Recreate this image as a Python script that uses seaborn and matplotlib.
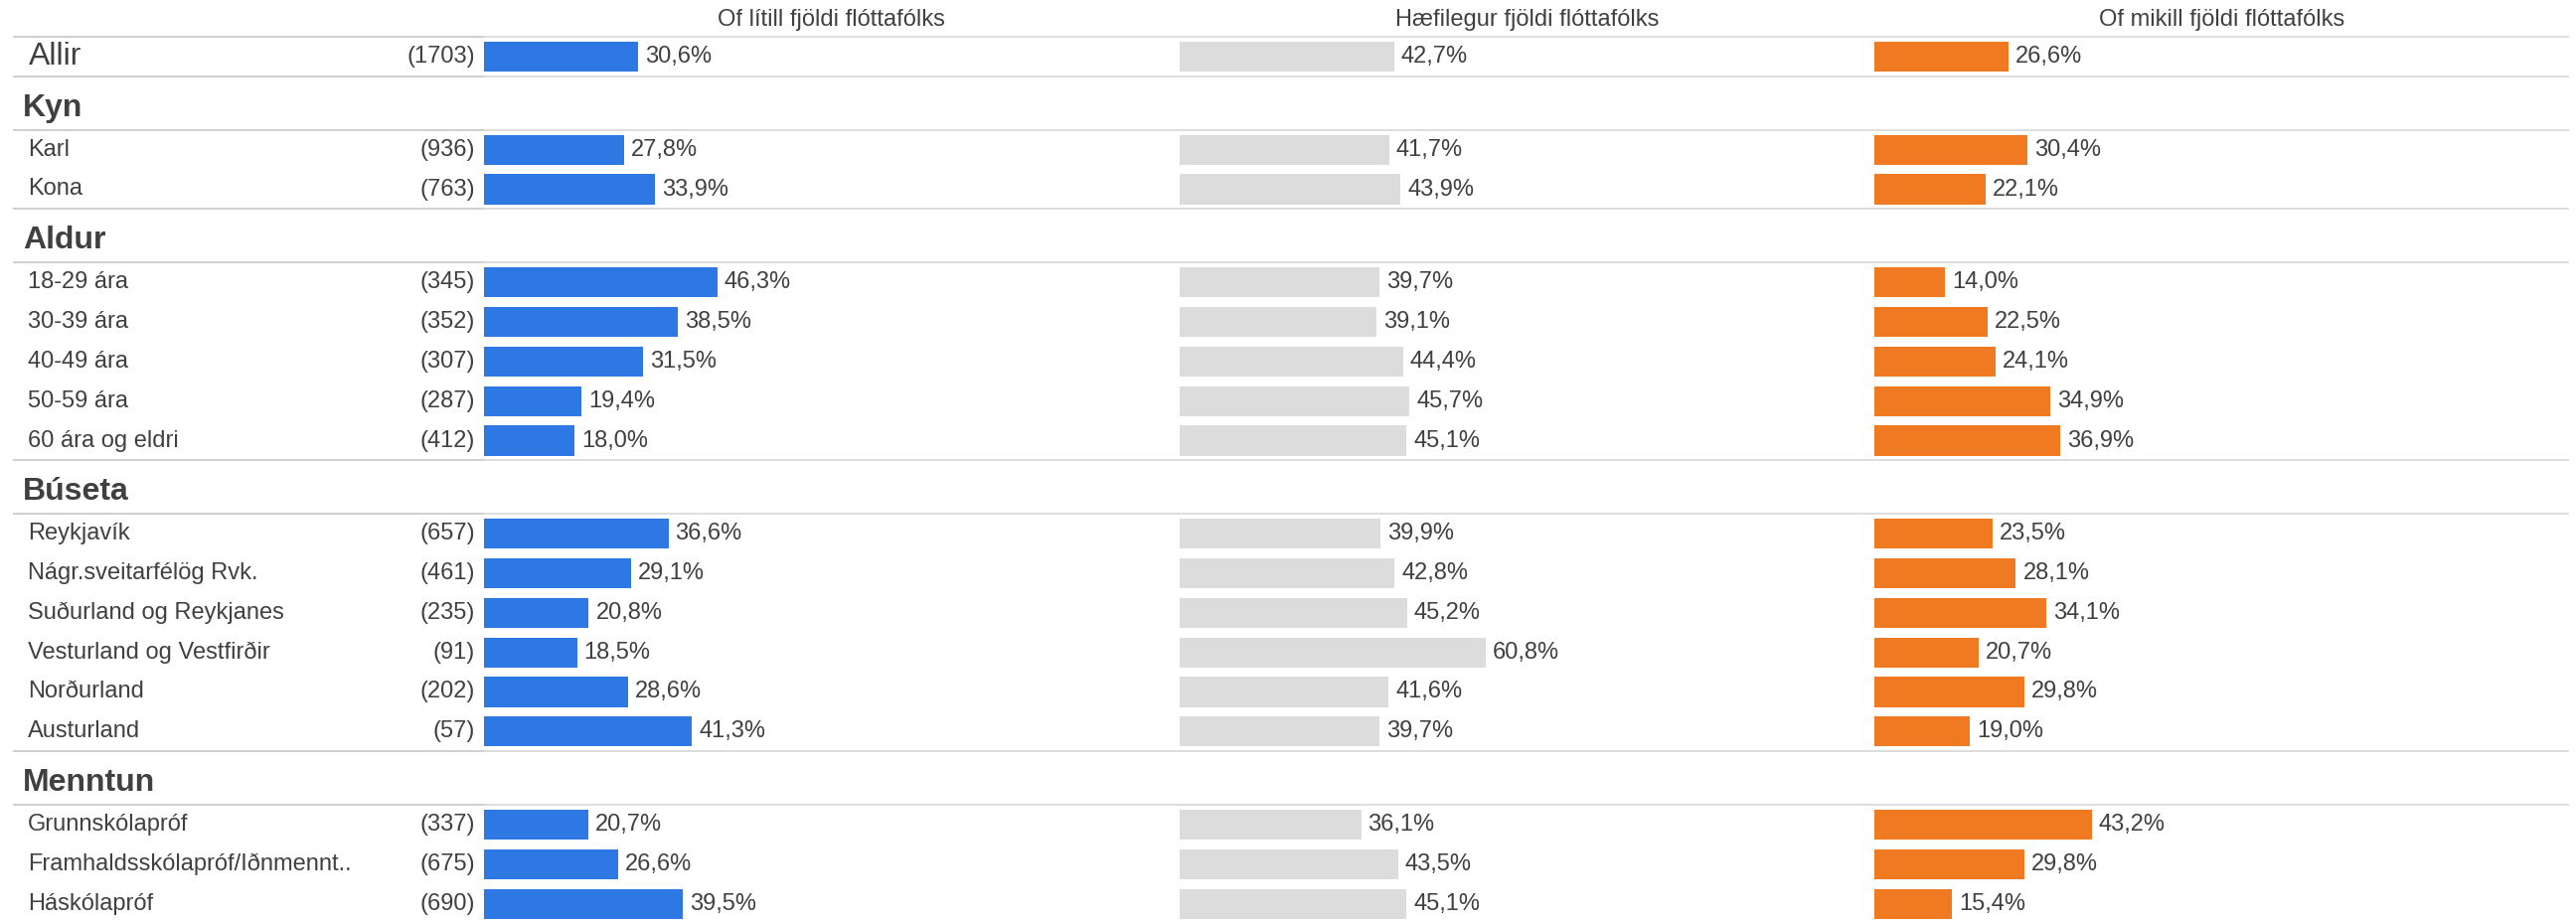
import numpy as np
import pandas as pd
import matplotlib
matplotlib.use("Agg")
import matplotlib.pyplot as plt
import seaborn as sns

# ---------------- data ----------------
column_titles = ["Of lítill fjöldi flóttafólks", "Hæfilegur fjöldi flóttafólks", "Of mikill fjöldi flóttafólks"]
group_names = ["", "Kyn", "Aldur", "Búseta", "Menntun"]
row_groups = [0, 1, 1, 2, 2, 2, 2, 2, 3, 3, 3, 3, 3, 3, 4, 4, 4]
row_labels = ["Allir", "Karl", "Kona",
              "18-29 ára", "30-39 ára", "40-49 ára", "50-59 ára", "60 ára og eldri",
              "Reykjavík", "Nágr.sveitarfélög Rvk.", "Suðurland og Reykjanes",
              "Vesturland og Vestfirðir", "Norðurland", "Austurland",
              "Grunnskólapróf", "Framhaldsskólapróf/Iðnmennt..", "Háskólapróf"]
row_counts = [1703, 936, 763, 345, 352, 307, 287, 412, 657, 461, 235, 91, 202, 57, 337, 675, 690]
of_litill = [30.6, 27.8, 33.9, 46.3, 38.5, 31.5, 19.4, 18.0, 36.6, 29.1, 20.8, 18.5, 28.6, 41.3, 20.7, 26.6, 39.5]
haefilegur = [42.7, 41.7, 43.9, 39.7, 39.1, 44.4, 45.7, 45.1, 39.9, 42.8, 45.2, 60.8, 41.6, 39.7, 36.1, 43.5, 45.1]
of_mikill = [26.6, 30.4, 22.1, 14.0, 22.5, 24.1, 34.9, 36.9, 23.5, 28.1, 34.1, 20.7, 29.8, 19.0, 43.2, 29.8, 15.4]
colors = ["#2E78E4", "#DCDCDC", "#F07A22"]

# ---------------- style ----------------
sns.set_theme(style="white")
plt.rcParams["font.family"] = ["Liberation Sans", "DejaVu Sans"]
TXT = "#404040"
LINE = "#D3D3D3"

W, H = 2592, 926
fig = plt.figure(figsize=(W / 100, H / 100), dpi=100)
fig.patch.set_facecolor("white")

# layout (pixel units)
pitch = 39.8
head_block = 54.0
head_off = 32.0
top_line = 37.0

ypos, lines, heads = [], [top_line], []
cur = top_line
prev = None
for g in row_groups:
    if g != prev:
        if prev is not None:
            lines.append(cur)
        if group_names[g]:
            heads.append((group_names[g], cur + head_off))
            cur += head_block
            lines.append(cur)
        prev = g
    ypos.append(cur + pitch / 2)
    cur += pitch

df = pd.DataFrame({"label": row_labels, "n": row_counts, "y": ypos,
                   "c0": of_litill, "c1": haefilegur, "c2": of_mikill})

# background axes for texts and rules
bg = fig.add_axes([0, 0, 1, 1])
bg.set_xlim(0, W)
bg.set_ylim(H, 0)
bg.axis("off")

col_x0 = 487.0
col_w = 699.5
px_per_pct = 5.07
lab_x = 28
split_x = 487

for ly in lines:
    bg.plot([13, split_x], [ly, ly], color="#CFCFCF", lw=1.4, solid_capstyle="butt")
    bg.plot([split_x, 2585], [ly, ly], color=LINE, lw=1.1, solid_capstyle="butt")

for name, hy in heads:
    bg.text(23, hy, name, fontsize=23, fontweight="bold", color=TXT, va="center", ha="left")

for i, r in df.iterrows():
    if r["label"] == "Allir":
        bg.text(29, r["y"], r["label"], fontsize=23, color=TXT, va="center", ha="left")
    else:
        bg.text(lab_x, r["y"], r["label"], fontsize=17, color=TXT, va="center", ha="left")
    bg.text(478, r["y"], f"({r['n']})", fontsize=17, color=TXT, va="center", ha="right")

for k, col in enumerate(["c0", "c1", "c2"]):
    x0 = col_x0 + k * col_w
    ax = fig.add_axes([x0 / W, 0, col_w / W, 1])
    sns.barplot(data=df, x=col, y="y", orient="y", native_scale=True,
                color=colors[k], saturation=1, width=0.755, linewidth=0,
                errorbar=None, ax=ax)
    ax.set_xlim(0, col_w / px_per_pct)
    ax.set_ylim(H, 0)
    ax.axis("off")
    cont = ax.containers[0]
    labels = [f"{p.get_width():.1f}".replace(".", ",") + "%" for p in cont]
    ax.bar_label(cont, labels=labels, padding=5, fontsize=17, color=TXT)
    bg.text(x0 + col_w / 2, 20, column_titles[k], fontsize=17, color=TXT, ha="center", va="center")

fig.savefig("out.png", dpi=100, facecolor="white")
